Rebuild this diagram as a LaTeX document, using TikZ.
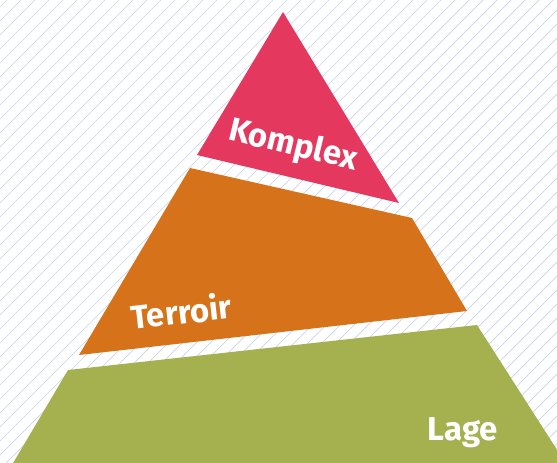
\documentclass[tikz,border=0pt]{standalone}
\usepackage{fontspec}
\setmainfont{Fira Sans}
\definecolor{komplexrot}{RGB}{228,56,94}
\definecolor{terroirorange}{RGB}{214,114,26}
\definecolor{lagegruen}{RGB}{164,177,78}
\definecolor{schraffurblau}{RGB}{200,212,238}
\tikzset{
  schraffur/.style={draw=schraffurblau, line width=0.7pt},
  schrift/.style={text=white, inner sep=0pt, font=\fontsize{33}{33}\selectfont\bfseries}
}
\begin{document}
\begin{tikzpicture}[x=1pt,y=-1pt]
        \useasboundingbox (0,0) rectangle (557,463);
        \clip (0,0) rectangle (557,463);

        %%%%%%%% Schraffur %%%%%%%%
        \foreach \x in {-470,-456,...,560}
            \draw[schraffur] (\x,463) -- (\x+463,0);

        %%%%%%%%%% Lage %%%%%%%%%%%
        \fill[lagegruen] (68,370) -- (477,325) -- (570,470) -- (9,470) -- cycle;

        %%%%%%%%% Terroir %%%%%%%%%
        \fill[terroirorange] (190,168) -- (412,218) -- (467,311) -- (79,355) -- cycle;

        %%%%%%%%% Komplex %%%%%%%%%
        \fill[komplexrot] (283,12) -- (399,203) -- (197,155) -- cycle;

        %%%%%%%%% Texte %%%%%%%%%%
        \node[schrift, rotate=-13.5] (komplex) at (293,146) {Komplex};
        \node[schrift, rotate=6.5] (terroir) at (181,311) {Terroir};
        \node[schrift] (lage) at (463,433) {Lage};
    \end{tikzpicture}
\end{document}
